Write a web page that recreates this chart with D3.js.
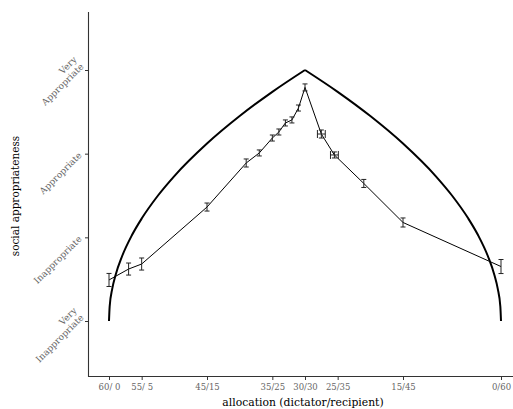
<!DOCTYPE html>
<html>
<head>
<meta charset="utf-8">
<script src="https://cdn.jsdelivr.net/npm/d3@7"></script>
<style>
  body { margin: 0; background: #fff; }
  svg { display: block; }
  text { font-family: "DejaVu Serif", "Liberation Serif", serif; }
</style>
</head>
<body>
<div id="chart"></div>
<script>
// allocation ticks: recipient amount and label
const tickValues = [0, 5, 15, 25, 30, 35, 45, 60];
const tickLabels = ["60/ 0", "55/ 5", "45/15", "35/25", "30/30", "25/35", "15/45", "0/60"];

// appropriateness levels
const levelValues = [-1, -1 / 3, 1 / 3, 1];
const levelLabels = [["Very", "Inappropriate"], ["Inappropriate"], ["Appropriate"], ["Very", "Appropriate"]];

// observed means (recipient amount, rating, errors)
const obsX = [0, 3, 5, 15, 21, 23, 25, 26, 27, 28, 29, 30, 32.5, 34.5, 39, 45, 60];
const obsY = [-0.673, -0.586, -0.546, -0.092, 0.259, 0.339, 0.458, 0.506, 0.578, 0.602, 0.697, 0.861, 0.490, 0.323, 0.096, -0.215, -0.566];
const obsErr = [0.052, 0.048, 0.048, 0.032, 0.032, 0.024, 0.024, 0.024, 0.024, 0.024, 0.024, 0.028, 0.032, 0.024, 0.032, 0.036, 0.056];
const obsXErr = [0, 0, 0, 0, 0, 0, 0, 0, 0, 0, 0, 0, 0.6, 0.6, 0, 0, 0];

// reference curve (left and right halves)
const curveLeftX = [0, 0.1, 0.5, 1, 2, 3.5, 5, 7.5, 10, 15, 20, 25, 30];
const curveLeftY = [-1, -0.885, -0.742, -0.635, -0.484, -0.317, -0.184, 0, 0.155, 0.414, 0.633, 0.826, 1];
const curveRightX = [30, 35, 40, 45, 50, 52.5, 55, 56.5, 58, 59, 59.5, 59.9, 60];
const curveRightY = [1, 0.826, 0.633, 0.414, 0.155, 0, -0.184, -0.317, -0.484, -0.635, -0.742, -0.885, -1];

const width = 513;
const height = 409;

const svg = d3.select('#chart')
    .append('svg')
    .attr('width', width)
    .attr('height', height);

const x = d3.scaleLinear().domain([0, 60]).range([109, 501]);
const y = d3.scaleLinear().domain([-1, 1]).range([321, 70]);

const axisLeftX = 88.5;
const axisBottomY = 376.5;

// axis lines
svg.append('path')
    .attr('d', `M${axisLeftX},12V${axisBottomY}H${width}`)
    .attr('fill', 'none')
    .attr('stroke', '#333')
    .attr('stroke-width', 1.1);

// y ticks
const yAxis = svg.append('g')
    .attr('transform', `translate(${axisLeftX},0)`)
    .call(d3.axisLeft(y).tickValues(levelValues).tickSize(3.5).tickFormat(''));
yAxis.select('.domain').remove();
yAxis.selectAll('line').attr('stroke', '#333');

// rotated level labels
levelValues.forEach((v, i) => {
    const lines = levelLabels[i];
    const two = lines.length > 1;
    const t = svg.append('text')
        .attr('transform', two
            ? `translate(75,${y(v) - 12}) rotate(-45)`
            : `translate(80,${y(v)}) rotate(-45)`)
        .attr('text-anchor', 'end')
        .attr('fill', '#666')
        .style('font-size', '9px');
    lines.forEach((s, j) => {
        t.append('tspan')
            .attr('x', 0)
            .attr('dy', j === 0 ? '0.35em' : '1.1em')
            .text(s);
    });
});

// x ticks
const xAxis = svg.append('g')
    .attr('transform', `translate(0,${axisBottomY})`)
    .call(d3.axisBottom(x).tickValues(tickValues).tickSize(3.5).tickPadding(3.5)
        .tickFormat((d, i) => tickLabels[i]));
xAxis.select('.domain').remove();
xAxis.selectAll('line').attr('stroke', '#333');
xAxis.selectAll('text')
    .attr('fill', '#666')
    .style('font-size', '8.5px')
    .style('font-family', '"DejaVu Serif", serif');

// axis titles
svg.append('text')
    .attr('x', 303)
    .attr('y', 406)
    .attr('text-anchor', 'middle')
    .style('font-size', '10.8px')
    .text('allocation (dictator/recipient)');

svg.append('text')
    .attr('transform', `translate(19,196) rotate(-90)`)
    .attr('text-anchor', 'middle')
    .style('font-size', '10.5px')
    .text('social appropriateness');

// reference curve
const curveLine = d3.line()
    .x(d => x(d[0]))
    .y(d => y(d[1]))
    .curve(d3.curveMonotoneX);

svg.append('path')
    .datum(d3.zip(curveLeftX, curveLeftY))
    .attr('d', curveLine)
    .attr('fill', 'none')
    .attr('stroke', '#000')
    .attr('stroke-width', 2);

svg.append('path')
    .datum(d3.zip(curveRightX, curveRightY))
    .attr('d', curveLine)
    .attr('fill', 'none')
    .attr('stroke', '#000')
    .attr('stroke-width', 2);

// observed line
const obs = obsX.map((d, i) => ({x: d, y: obsY[i], e: obsErr[i], xe: obsXErr[i]}));

svg.append('path')
    .datum(obs)
    .attr('d', d3.line().x(d => x(d.x)).y(d => y(d.y)))
    .attr('fill', 'none')
    .attr('stroke', '#000')
    .attr('stroke-width', 1);

// vertical error bars
const cap = 2.5;
const eb = svg.append('g')
    .attr('stroke', '#222')
    .attr('stroke-width', 1)
    .attr('fill', 'none');

eb.selectAll('path.v')
    .data(obs)
    .join('path')
    .attr('class', 'v')
    .attr('d', d => {
        const cx = x(d.x), y0 = y(d.y - d.e), y1 = y(d.y + d.e);
        return `M${cx - cap},${y1}H${cx + cap}M${cx},${y1}V${y0}M${cx - cap},${y0}H${cx + cap}`;
    });

// horizontal error bars
eb.selectAll('path.h')
    .data(obs.filter(d => d.xe > 0))
    .join('path')
    .attr('class', 'h')
    .attr('d', d => {
        const cy = y(d.y), x0 = x(d.x - d.xe), x1 = x(d.x + d.xe);
        return `M${x0},${cy - 4}V${cy + 4}M${x0},${cy}H${x1}M${x1},${cy - 4}V${cy + 4}`;
    });
</script>
</body>
</html>
